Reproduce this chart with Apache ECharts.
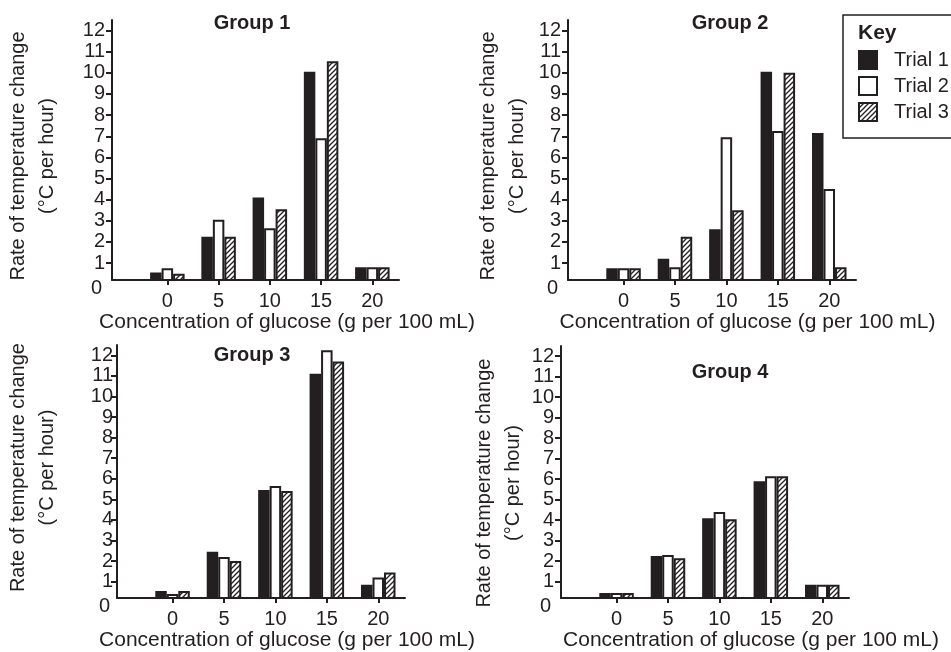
<!DOCTYPE html>
<html><head><meta charset="utf-8">
<script src="https://cdn.jsdelivr.net/npm/echarts@6/dist/echarts.min.js"></script>
<style>html,body{margin:0;padding:0;background:#fff}#c{width:951px;height:652px}</style>
</head><body><div id="c"></div>
<script>
// ---- data ----
const concentrations = [0, 5, 10, 15, 20];
const yTickValues = [1, 2, 3, 4, 5, 6, 7, 8, 9, 10, 11, 12];
const groupTitles = ['Group 1', 'Group 2', 'Group 3', 'Group 4'];
const trialNames = ['Trial 1', 'Trial 2', 'Trial 3'];
const xAxisTitle = 'Concentration of glucose (g per 100 mL)';
const yAxisTitle = 'Rate of temperature change\n(°C per hour)';

const group1Trial1 = [0.55, 2.25, 4.1, 10.05, 0.8];
const group1Trial2 = [0.75, 3.05, 2.65, 6.9, 0.8];
const group1Trial3 = [0.5, 2.25, 3.55, 10.55, 0.8];

const group2Trial1 = [0.75, 1.2, 2.6, 10.05, 7.15];
const group2Trial2 = [0.75, 0.8, 6.95, 7.25, 4.5];
const group2Trial3 = [0.75, 2.25, 3.5, 10.0, 0.8];

const group3Trial1 = [0.55, 2.45, 5.45, 11.1, 0.85];
const group3Trial2 = [0.4, 2.2, 5.65, 12.25, 1.2];
const group3Trial3 = [0.55, 2.0, 5.4, 11.7, 1.45];

const group4Trial1 = [0.45, 2.25, 4.1, 5.9, 0.85];
const group4Trial2 = [0.45, 2.3, 4.4, 6.15, 0.85];
const group4Trial3 = [0.45, 2.15, 4.05, 6.15, 0.85];

const groupsData = [
  [group1Trial1, group1Trial2, group1Trial3],
  [group2Trial1, group2Trial2, group2Trial3],
  [group3Trial1, group3Trial2, group3Trial3],
  [group4Trial1, group4Trial2, group4Trial3]
];

// ---- styling / layout ----
const INK = '#231f20';
const FONT = "'Liberation Sans', Arial, sans-serif";

function hatchPattern() {
  const s = 5;
  const cv = document.createElement('canvas');
  cv.width = s; cv.height = s;
  const ctx = cv.getContext('2d');
  ctx.fillStyle = '#fff';
  ctx.fillRect(0, 0, s, s);
  ctx.strokeStyle = INK;
  ctx.lineWidth = 1.3;
  ctx.beginPath();
  ctx.moveTo(-1, s + 1); ctx.lineTo(s + 1, -1);
  ctx.moveTo(-1, 1); ctx.lineTo(1, -1);
  ctx.moveTo(s - 1, s + 1); ctx.lineTo(s + 1, s - 1);
  ctx.stroke();
  return { image: cv, repeat: 'repeat' };
}
const fills = [INK, '#ffffff', hatchPattern()];

const panels = [
  { grid: { left: 112, top: 20, width: 287, height: 260 }, title: [252, 13], yGap: 50, yPad: [0, 12, 0, 0], xGap: 27, xShift: 63, lblMargin: 7 },
  { grid: { left: 568, top: 20, width: 288, height: 260 }, title: [730, 13], yGap: 36, yPad: [0, 12, 0, 0], xGap: 24, xShift: 71, lblMargin: 7 },
  { grid: { left: 117, top: 345, width: 288, height: 260 }, title: [252, 345], yGap: 55, yPad: [0, 0, 0, 8], xGap: 27, xShift: 52, lblMargin: 4 },
  { grid: { left: 561, top: 346, width: 288, height: 261 }, title: [730, 362], yGap: 27, yPad: [0, 22, 0, 0], xGap: 23, xShift: 92, lblMargin: 7 }
];

const option = {
  animation: false,
  backgroundColor: '#fff',
  textStyle: { fontFamily: FONT, color: INK },
  title: panels.map((p, i) => ({
    text: groupTitles[i], left: p.title[0], top: p.title[1], textAlign: 'center', padding: 0,
    textStyle: { fontFamily: FONT, fontSize: 20, fontWeight: 'bold', color: INK }
  })).concat([{
    text: 'Key', left: 858, top: 23, padding: 0,
    textStyle: { fontFamily: FONT, fontSize: 21, fontWeight: 'bold', color: INK }
  }]),
  legend: {
    data: trialNames,
    orient: 'vertical',
    left: 843, top: 15,
    padding: [35, 4, 16, 15],
    itemWidth: 18, itemHeight: 18, itemGap: 6,
    borderColor: INK, borderWidth: 1.5,
    icon: 'rect',
    textStyle: { fontFamily: FONT, fontSize: 20, color: INK, lineHeight: 18, padding: [0, 0, 0, 12] }
  },
  grid: panels.map(p => p.grid),
  xAxis: panels.map((p, i) => ({
    type: 'value', gridIndex: i, min: -5.4, max: 22.6, z: 3,
    name: xAxisTitle, nameLocation: 'middle', nameGap: p.xGap,
    nameTextStyle: { fontFamily: FONT, fontSize: 21, color: INK, padding: [0, 0, 0, p.xShift] },
    splitLine: { show: false },
    axisLine: { show: true, onZero: false, lineStyle: { color: INK, width: 2 } },
    axisTick: { show: true, length: 5, customValues: concentrations, lineStyle: { color: INK, width: 2 } },
    axisLabel: { customValues: concentrations, margin: 11, fontFamily: FONT, fontSize: 20, color: INK }
  })),
  yAxis: panels.map((p, i) => ({
    type: 'value', gridIndex: i, min: 0.2, max: 12.5, z: 3,
    name: yAxisTitle, nameLocation: 'middle', nameRotate: 90, nameGap: p.yGap,
    nameTextStyle: { fontFamily: FONT, fontSize: 20, lineHeight: 29, color: INK, padding: p.yPad, align: 'center' },
    splitLine: { show: false },
    axisLine: { show: true, onZero: false, lineStyle: { color: INK, width: 2 } },
    axisTick: { show: true, length: 6, customValues: yTickValues, lineStyle: { color: INK, width: 2 } },
    axisLabel: {
      customValues: [0.2].concat(yTickValues), margin: p.lblMargin, fontFamily: FONT, fontSize: 20, color: INK,
      formatter: v => (v < 0.5 ? '{z|0}' : String(Math.round(v))),
      rich: { z: { fontFamily: FONT, fontSize: 20, color: INK, padding: [16, 3, 0, 0] } }
    }
  })),
  series: []
};

groupsData.forEach((trials, g) => {
  trials.forEach((vals, t) => {
    option.series.push({
      type: 'bar', name: trialNames[t], xAxisIndex: g, yAxisIndex: g,
      barWidth: 11.5, barGap: '0%',
      itemStyle: { color: fills[t], borderColor: INK, borderWidth: 2 },
      data: concentrations.map((c, k) => [c, vals[k]])
    });
  });
});

const chart = echarts.init(document.getElementById('c'), null, { renderer: 'canvas' });
chart.setOption(option);
</script></body></html>
